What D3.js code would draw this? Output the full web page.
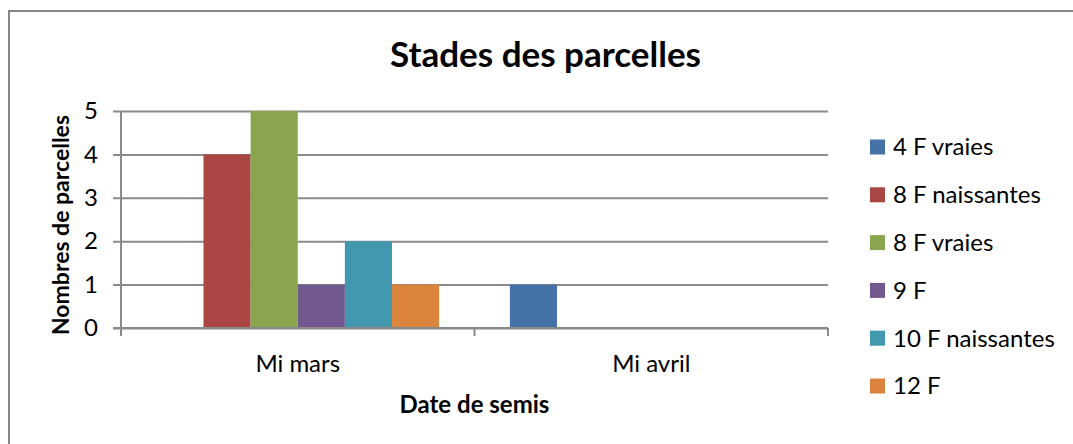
<!DOCTYPE html>
<html><head><meta charset="utf-8">
<script src="https://cdn.jsdelivr.net/npm/d3@7"></script>
<style>html,body{margin:0;padding:0;background:#fff;}svg{display:block;}</style>
</head><body>
<svg id="chart" width="1073" height="444"></svg>
<script>
const categories = ["Mi mars", "Mi avril"];
const seriesNames = ["4 F vraies", "8 F naissantes", "8 F vraies", "9 F", "10 F naissantes", "12 F"];
const seriesColors = ["#4572A7", "#AA4643", "#89A54E", "#71588F", "#4198AF", "#DB843D"];
const v4FVraies = [0, 1];
const v8FNaissantes = [4, 0];
const v8FVraies = [5, 0];
const v9F = [1, 0];
const v10FNaissantes = [2, 0];
const v12F = [1, 0];
const yTicks = [0, 1, 2, 3, 4, 5];
const titleText = "Stades des parcelles";
const xTitle = "Date de semis";
const yTitle = "Nombres de parcelles";

const seriesValues = [v4FVraies, v8FNaissantes, v8FVraies, v9F, v10FNaissantes, v12F];
const FONT = "Lato, 'Open Sans', sans-serif";
const grey = "#8a8a8a";

const svg = d3.select("#chart");
svg.append("rect").attr("x", 0).attr("y", 0).attr("width", 1073).attr("height", 444).attr("fill", "#fff");
// chart area border (extends beyond right/bottom)
svg.append("rect").attr("x", 9).attr("y", 11).attr("width", 1100).attr("height", 480)
  .attr("fill", "none").attr("stroke", "#878787").attr("stroke-width", 2);

const plot = {left: 121, right: 828, top: 111, bottom: 328};

const x0 = d3.scaleBand().domain(categories).range([plot.left, plot.right]).paddingInner(0).paddingOuter(0);
const x1 = d3.scaleBand().domain(seriesNames).range([0, x0.bandwidth()]).paddingInner(0).paddingOuter(0.75);
const y = d3.scaleLinear().domain([0, 5]).range([plot.bottom, plot.top]);

// gridlines
const yAxis = d3.axisLeft(y).tickValues(yTicks).tickSize(-(plot.right - plot.left)).tickSizeOuter(0).tickPadding(14).tickFormat(d3.format("d"));
const gy = svg.append("g").attr("transform", `translate(${plot.left},0)`).call(yAxis);
gy.select(".domain").remove();
gy.selectAll(".tick line").attr("stroke", grey).attr("stroke-width", 2).attr("x1", -8);
gy.selectAll(".tick text").attr("font-family", FONT).attr("font-size", 24).attr("fill", "#000").attr("x", -23);

// bars
const groups = svg.append("g").selectAll("g").data(seriesNames).join("g").attr("fill", (d, i) => seriesColors[i]);
groups.selectAll("rect").data((s, i) => categories.map((c, j) => ({c, s, v: seriesValues[i][j]})))
  .join("rect")
  .attr("x", d => x0(d.c) + x1(d.s))
  .attr("width", x1.bandwidth())
  .attr("y", d => y(d.v))
  .attr("height", d => y(0) - y(d.v));

// baseline gridline on top
svg.append("line").attr("x1", plot.left - 8).attr("x2", plot.right).attr("y1", y(0)).attr("y2", y(0)).attr("stroke", grey).attr("stroke-width", 2);

// y axis line
svg.append("line").attr("x1", plot.left).attr("x2", plot.left).attr("y1", plot.top).attr("y2", plot.bottom + 8).attr("stroke", grey).attr("stroke-width", 2);

// x axis
const xAxisG = svg.append("g").attr("transform", `translate(0,${plot.bottom})`);
const boundaries = categories.map(c => x0(c)).concat([x0(categories[categories.length - 1]) + x0.bandwidth()]);
xAxisG.selectAll("line.t").data(boundaries).join("line").attr("class", "t")
  .attr("x1", d => d).attr("x2", d => d).attr("y1", 0).attr("y2", 8).attr("stroke", grey).attr("stroke-width", 2);
xAxisG.selectAll("text").data(categories).join("text")
  .attr("x", d => x0(d) + x0.bandwidth() / 2).attr("y", 44)
  .attr("text-anchor", "middle").attr("font-family", FONT).attr("font-size", 24).attr("fill", "#000").text(d => d);

// titles
svg.append("text").attr("x", 545.5).attr("y", 67).attr("text-anchor", "middle")
  .attr("font-family", FONT).attr("font-weight", "bold").attr("font-size", 35).attr("fill", "#000").text(titleText);
svg.append("text").attr("x", 474.5).attr("y", 413).attr("text-anchor", "middle")
  .attr("font-family", FONT).attr("font-weight", "bold").attr("font-size", 24).attr("fill", "#000").text(xTitle);
svg.append("text").attr("transform", "translate(69,225) rotate(-90)").attr("text-anchor", "middle")
  .attr("font-family", FONT).attr("font-weight", "bold").attr("font-size", 23).attr("fill", "#000").text(yTitle);

// legend
const legend = svg.append("g").selectAll("g").data(seriesNames).join("g")
  .attr("transform", (d, i) => `translate(870,${147 + i * 47.8})`);
legend.append("rect").attr("x", 0).attr("y", -7.5).attr("width", 15).attr("height", 15).attr("fill", (d, i) => seriesColors[i]);
legend.append("text").attr("x", 23).attr("y", 0).attr("dy", "0.35em")
  .attr("font-family", FONT).attr("font-size", 24).attr("fill", "#000").text(d => d);
</script>
</body></html>
